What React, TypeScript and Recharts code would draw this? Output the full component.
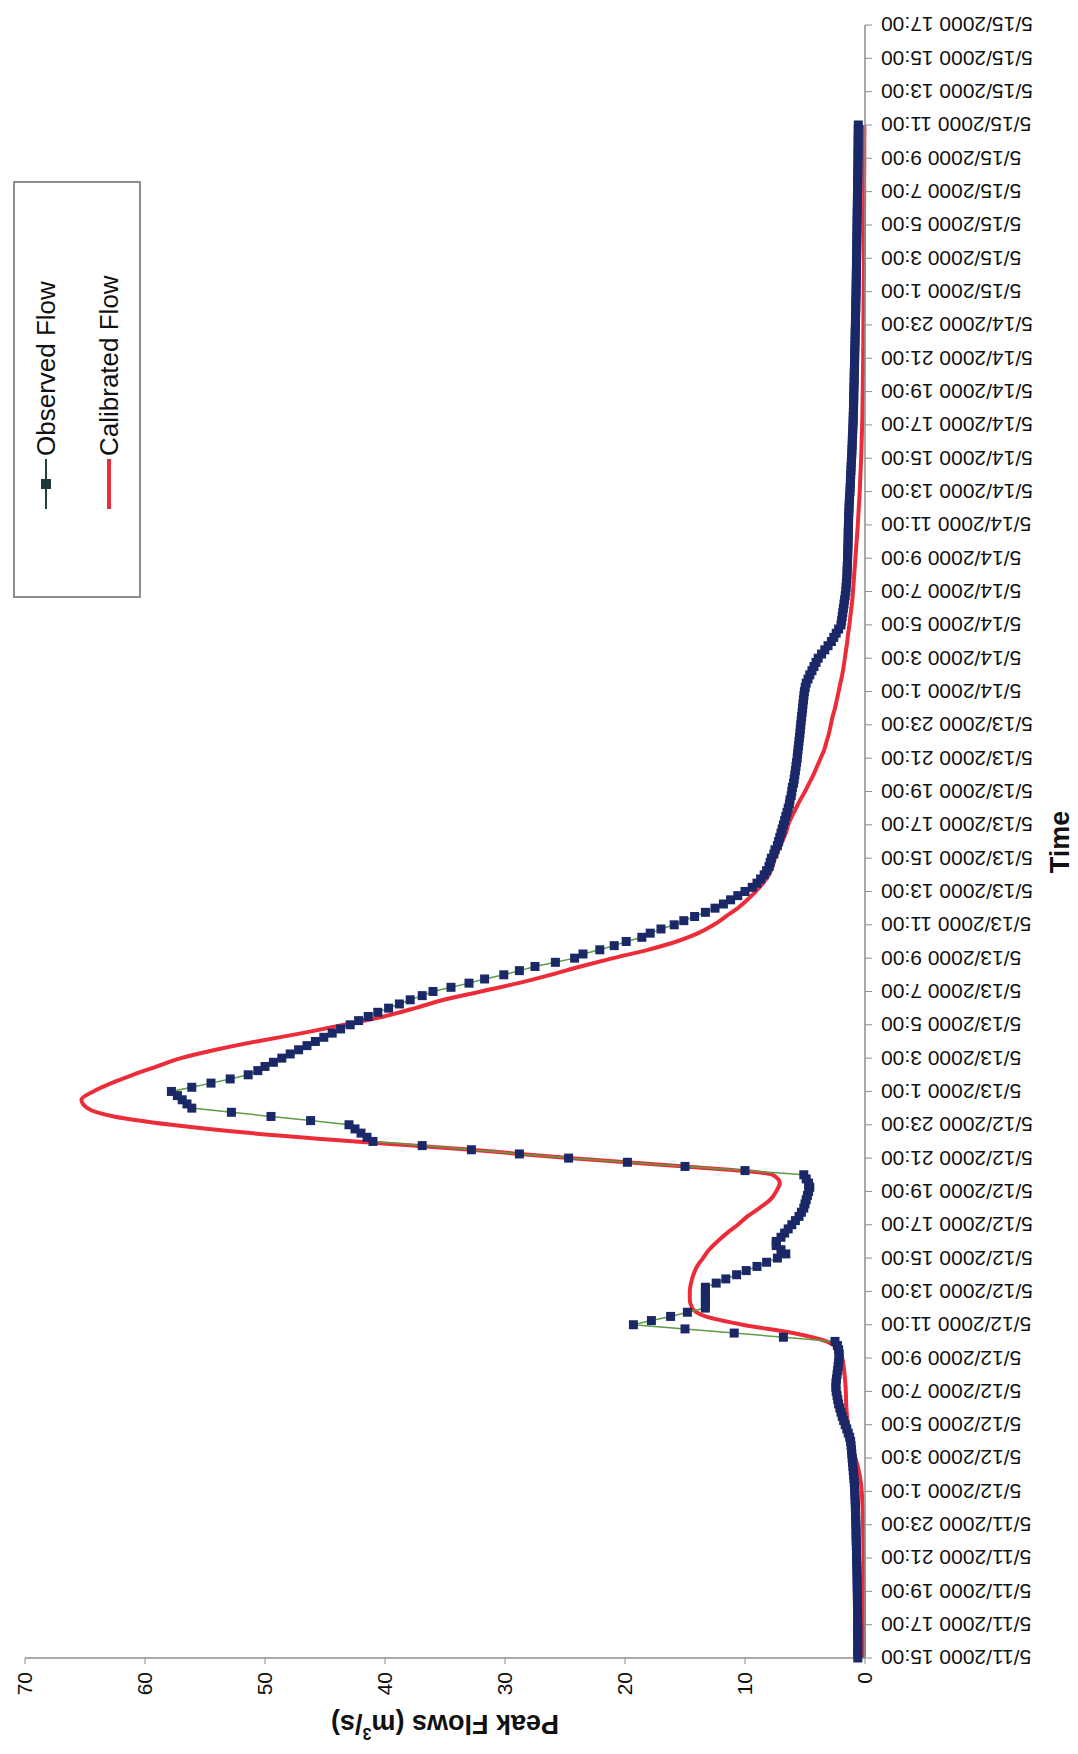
import React from "react";
import { LineChart, Line, XAxis, YAxis, Legend } from "recharts";

const FONT = '"Liberation Sans", Arial, Helvetica, sans-serif';

const tickLabels = [
  "5/11/2000 15:00", "5/11/2000 17:00", "5/11/2000 19:00", "5/11/2000 21:00", "5/11/2000 23:00",
  "5/12/2000 1:00", "5/12/2000 3:00", "5/12/2000 5:00", "5/12/2000 7:00", "5/12/2000 9:00", "5/12/2000 11:00",
  "5/12/2000 13:00", "5/12/2000 15:00", "5/12/2000 17:00", "5/12/2000 19:00", "5/12/2000 21:00", "5/12/2000 23:00",
  "5/13/2000 1:00", "5/13/2000 3:00", "5/13/2000 5:00", "5/13/2000 7:00", "5/13/2000 9:00", "5/13/2000 11:00",
  "5/13/2000 13:00", "5/13/2000 15:00", "5/13/2000 17:00", "5/13/2000 19:00", "5/13/2000 21:00", "5/13/2000 23:00",
  "5/14/2000 1:00", "5/14/2000 3:00", "5/14/2000 5:00", "5/14/2000 7:00", "5/14/2000 9:00", "5/14/2000 11:00",
  "5/14/2000 13:00", "5/14/2000 15:00", "5/14/2000 17:00", "5/14/2000 19:00", "5/14/2000 21:00", "5/14/2000 23:00",
  "5/15/2000 1:00", "5/15/2000 3:00", "5/15/2000 5:00", "5/15/2000 7:00", "5/15/2000 9:00", "5/15/2000 11:00",
  "5/15/2000 13:00", "5/15/2000 15:00", "5/15/2000 17:00",
];

const flowTicks = [0, 10, 20, 30, 40, 50, 60, 70];

// observed flow (m3/s), one reading every 15 min starting 5/11/2000 15:00
const observedFlow = [
  0.60, 0.60, 0.61, 0.60, 0.60, 0.61, 0.61, 0.60, 0.61, 0.62, 0.62, 0.62,
  0.62, 0.63, 0.63, 0.64, 0.64, 0.65, 0.65, 0.66, 0.66, 0.67, 0.68, 0.69,
  0.70, 0.70, 0.71, 0.72, 0.73, 0.74, 0.74, 0.75, 0.76, 0.77, 0.78, 0.79,
  0.80, 0.81, 0.82, 0.84, 0.85, 0.87, 0.89, 0.92, 0.95, 0.98, 1.01, 1.04,
  1.07, 1.10, 1.13, 1.16, 1.20, 1.28, 1.40, 1.52, 1.65, 1.78, 1.90, 2.00,
  2.10, 2.20, 2.27, 2.33, 2.40, 2.43, 2.42, 2.38, 2.33, 2.28, 2.24, 2.20,
  2.17, 2.15, 2.20, 2.30, 2.50, 6.80, 10.90, 15.00, 19.30, 17.80, 16.20, 14.80,
  13.30, 13.30, 13.30, 13.30, 13.30, 13.30, 12.40, 11.60, 10.70, 9.90, 9.00, 8.20,
  7.30, 6.60, 7.00, 7.40, 7.40, 7.00, 6.70, 6.40, 6.10, 5.80, 5.50, 5.30,
  5.10, 5.00, 4.90, 4.80, 4.70, 4.60, 4.70, 4.90, 5.10, 10.00, 15.00, 19.80,
  24.70, 28.80, 32.80, 36.90, 41.00, 41.50, 42.00, 42.50, 43.00, 46.20, 49.50, 52.80,
  56.10, 56.50, 56.90, 57.30, 57.80, 56.10, 54.50, 52.90, 51.40, 50.60, 50.00, 49.30,
  48.60, 47.90, 47.20, 46.50, 45.80, 45.10, 44.40, 43.70, 42.90, 42.20, 41.40, 40.60,
  39.70, 38.80, 37.90, 36.90, 36.00, 34.50, 33.00, 31.70, 30.10, 28.80, 27.50, 25.80,
  24.20, 23.50, 22.10, 20.90, 19.90, 18.60, 17.90, 17.00, 15.90, 15.10, 14.20, 13.30,
  12.50, 11.80, 11.20, 10.60, 10.00, 9.40, 9.00, 8.70, 8.40, 8.20, 8.00, 7.90,
  7.80, 7.60, 7.50, 7.30, 7.20, 7.10, 7.00, 6.90, 6.80, 6.70, 6.60, 6.50,
  6.40, 6.30, 6.25, 6.15, 6.10, 6.05, 5.95, 5.90, 5.85, 5.80, 5.75, 5.70,
  5.65, 5.62, 5.58, 5.54, 5.50, 5.46, 5.42, 5.39, 5.35, 5.32, 5.28, 5.24,
  5.20, 5.17, 5.13, 5.09, 5.05, 4.98, 4.90, 4.75, 4.60, 4.42, 4.25, 4.08,
  3.90, 3.62, 3.35, 3.08, 2.80, 2.60, 2.40, 2.20, 2.00, 1.95, 1.90, 1.85,
  1.80, 1.75, 1.70, 1.65, 1.60, 1.58, 1.55, 1.52, 1.50, 1.49, 1.48, 1.46,
  1.45, 1.44, 1.43, 1.42, 1.41, 1.40, 1.40, 1.39, 1.38, 1.37, 1.36, 1.35,
  1.33, 1.32, 1.30, 1.28, 1.25, 1.24, 1.22, 1.21, 1.19, 1.17, 1.16, 1.14,
  1.12, 1.10, 1.09, 1.07, 1.06, 1.05, 1.03, 1.02, 1.00, 0.99, 0.98, 0.97,
  0.96, 0.95, 0.94, 0.94, 0.93, 0.92, 0.91, 0.90, 0.90, 0.89, 0.88, 0.87,
  0.86, 0.86, 0.85, 0.84, 0.83, 0.82, 0.82, 0.81, 0.80, 0.79, 0.79, 0.78,
  0.77, 0.77, 0.76, 0.75, 0.74, 0.74, 0.73, 0.73, 0.72, 0.72, 0.71, 0.71,
  0.70, 0.70, 0.69, 0.69, 0.68, 0.68, 0.67, 0.67, 0.66, 0.66, 0.65, 0.65,
  0.64, 0.64, 0.63, 0.63, 0.62, 0.62, 0.61, 0.61, 0.60, 0.60, 0.59, 0.59,
  0.58, 0.58, 0.58, 0.57, 0.57, 0.57, 0.56, 0.56, 0.56,
];

// calibrated model flow (m3/s), every 30 min starting 5/11/2000 15:00
const calibratedFlow = [
  0.10, 0.10, 0.10, 0.10, 0.10, 0.10, 0.10, 0.10, 0.10, 0.11, 0.11, 0.12,
  0.12, 0.13, 0.14, 0.15, 0.16, 0.18, 0.20, 0.23, 0.27, 0.34, 0.45, 0.60,
  0.80, 1.00, 1.18, 1.32, 1.42, 1.50, 1.55, 1.58, 1.60, 1.64, 1.70, 1.78,
  1.90, 2.20, 3.20, 6.00, 10.20, 13.30, 14.40, 14.60, 14.60, 14.50, 14.30, 14.00,
  13.50, 13.00, 12.30, 11.50, 10.60, 9.80, 8.80, 7.90, 7.40, 7.10, 7.70, 15.00,
  24.70, 32.80, 42.50, 51.20, 57.80, 62.60, 64.80, 65.30, 64.30, 62.80, 61.00, 59.00,
  57.00, 54.10, 50.70, 46.90, 43.40, 40.10, 37.50, 35.10, 32.00, 28.90, 26.20, 23.70,
  21.00, 18.10, 15.70, 13.90, 12.60, 11.60, 10.60, 9.80, 9.10, 8.50, 8.00, 7.70,
  7.50, 7.20, 6.90, 6.60, 6.40, 6.10, 5.75, 5.40, 5.00, 4.65, 4.30, 4.00,
  3.70, 3.40, 3.20, 3.00, 2.85, 2.70, 2.50, 2.35, 2.20, 2.05, 1.90, 1.78,
  1.68, 1.58, 1.48, 1.40, 1.30, 1.22, 1.14, 1.06, 1.00, 0.95, 0.90, 0.85,
  0.80, 0.75, 0.70, 0.65, 0.60, 0.56, 0.52, 0.48, 0.44, 0.41, 0.38, 0.35,
  0.32, 0.30, 0.28, 0.26, 0.24, 0.22, 0.21, 0.20, 0.19, 0.18, 0.17, 0.16,
  0.15, 0.15, 0.14, 0.14, 0.13, 0.13, 0.12, 0.12, 0.11, 0.11, 0.10, 0.10,
  0.10, 0.09, 0.09, 0.09, 0.08, 0.08, 0.08, 0.07, 0.07, 0.07, 0.07, 0.06,
  0.06, 0.06, 0.06, 0.05, 0.05,
];

const observedData = observedFlow.map((flow, i) => ({ hour: i * 0.25, flow }));
const calibratedData = calibratedFlow.map((flow, i) => ({ hour: i * 0.5, flow }));

const NAVY = "#1b2868";
const GREEN = "#5e9c46";
const RED = "#ec2c38";
const AXIS = "#8e8e8e";

const renderSquare = (props: any) => {
  const { cx, cy, index } = props;
  if (cx == null || cy == null) return <g key={`sq-${index}`} />;
  return <rect key={`sq-${index}`} x={cx - 4.5} y={cy - 4.5} width={9} height={9} fill={NAVY} />;
};

function TimeTick(props: any) {
  const { x, y, payload } = props;
  const label = tickLabels[Math.round(payload.value / 2)];
  return (
    <text
      x={x}
      y={y}
      transform={`rotate(-90 ${x} ${y})`}
      textAnchor="end"
      dy="0.36em"
      fontSize={21}
      fill="#111"
      fontFamily={FONT}
    >
      {label}
    </text>
  );
}

function FlowTitle() {
  return (
    <text
      x={30}
      y={445}
      transform="rotate(-90 30 445)"
      textAnchor="middle"
      dominantBaseline="central"
      fontSize={27}
      fontWeight="bold"
      fill="#111"
      fontFamily={FONT}
    >
      Peak Flows (m
      <tspan dy={-10} fontSize={16}>3</tspan>
      <tspan dy={10}>/s)</tspan>
    </text>
  );
}

function TimeTitle() {
  return (
    <text
      x={912}
      y={1060}
      textAnchor="middle"
      dominantBaseline="central"
      fontSize={27}
      fontWeight="bold"
      fill="#111"
      fontFamily={FONT}
    >
      Time
    </text>
  );
}

function FlowLegend() {
  return (
    <svg width={417} height={128} style={{ display: "block" }}>
      <rect x={1} y={1} width={415} height={126} fill="#fff" stroke={AXIS} strokeWidth={2} />
      <line x1={89} x2={139} y1={33} y2={33} stroke="#22413c" strokeWidth={2} />
      <rect x={109} y={28} width={10} height={10} fill="#1d3a3a" />
      <text x={142} y={33} dominantBaseline="central" fontSize={26} fill="#111" fontFamily={FONT}>
        Observed Flow
      </text>
      <line x1={89} x2={139} y1={96} y2={96} stroke={RED} strokeWidth={4} />
      <text x={142} y={96} dominantBaseline="central" fontSize={26} fill="#111" fontFamily={FONT}>
        Calibrated Flow
      </text>
    </svg>
  );
}

export default function App() {
  return (
    <div
      style={{
        position: "absolute",
        left: 0,
        top: 0,
        width: 1078,
        height: 1754,
        overflow: "hidden",
        background: "#fff",
      }}
    >
      <div
        style={{
          position: "absolute",
          left: 0,
          top: 0,
          width: 1754,
          height: 1078,
          transformOrigin: "0 0",
          transform: "translate(0px, 1754px) rotate(-90deg)",
          fontFamily: FONT,
        }}
      >
        <LineChart width={1754} height={1078} margin={{ top: 25, right: 25, bottom: 0, left: 16 }}>
          <XAxis
            dataKey="hour"
            type="number"
            domain={[0, 98]}
            ticks={tickLabels.map((_, i) => i * 2)}
            interval={0}
            height={213}
            tickSize={7}
            tickMargin={9}
            tick={<TimeTick />}
            axisLine={{ stroke: AXIS, strokeWidth: 1.5 }}
            tickLine={{ stroke: AXIS }}
            label={<TimeTitle />}
          />
          <YAxis
            type="number"
            domain={[0, 70]}
            ticks={flowTicks}
            interval={0}
            width={80}
            tickSize={6}
            tickMargin={8}
            tick={{ fontSize: 21, fill: "#111", fontFamily: FONT }}
            axisLine={{ stroke: AXIS, strokeWidth: 1.5 }}
            tickLine={{ stroke: AXIS }}
            label={<FlowTitle />}
          />
          <Legend
            layout="horizontal"
            verticalAlign="middle"
            align="center"
            content={<FlowLegend />}
            wrapperStyle={{ left: 1156, top: 13, width: 417, height: 128 }}
          />
          <Line
            data={calibratedData}
            dataKey="flow"
            name="Calibrated Flow"
            type="monotone"
            stroke={RED}
            strokeWidth={4}
            dot={false}
            activeDot={false}
            isAnimationActive={false}
          />
          <Line
            data={observedData}
            dataKey="flow"
            name="Observed Flow"
            type="linear"
            stroke={GREEN}
            strokeWidth={1.5}
            dot={renderSquare}
            activeDot={false}
            isAnimationActive={false}
          />
        </LineChart>
      </div>
    </div>
  );
}
